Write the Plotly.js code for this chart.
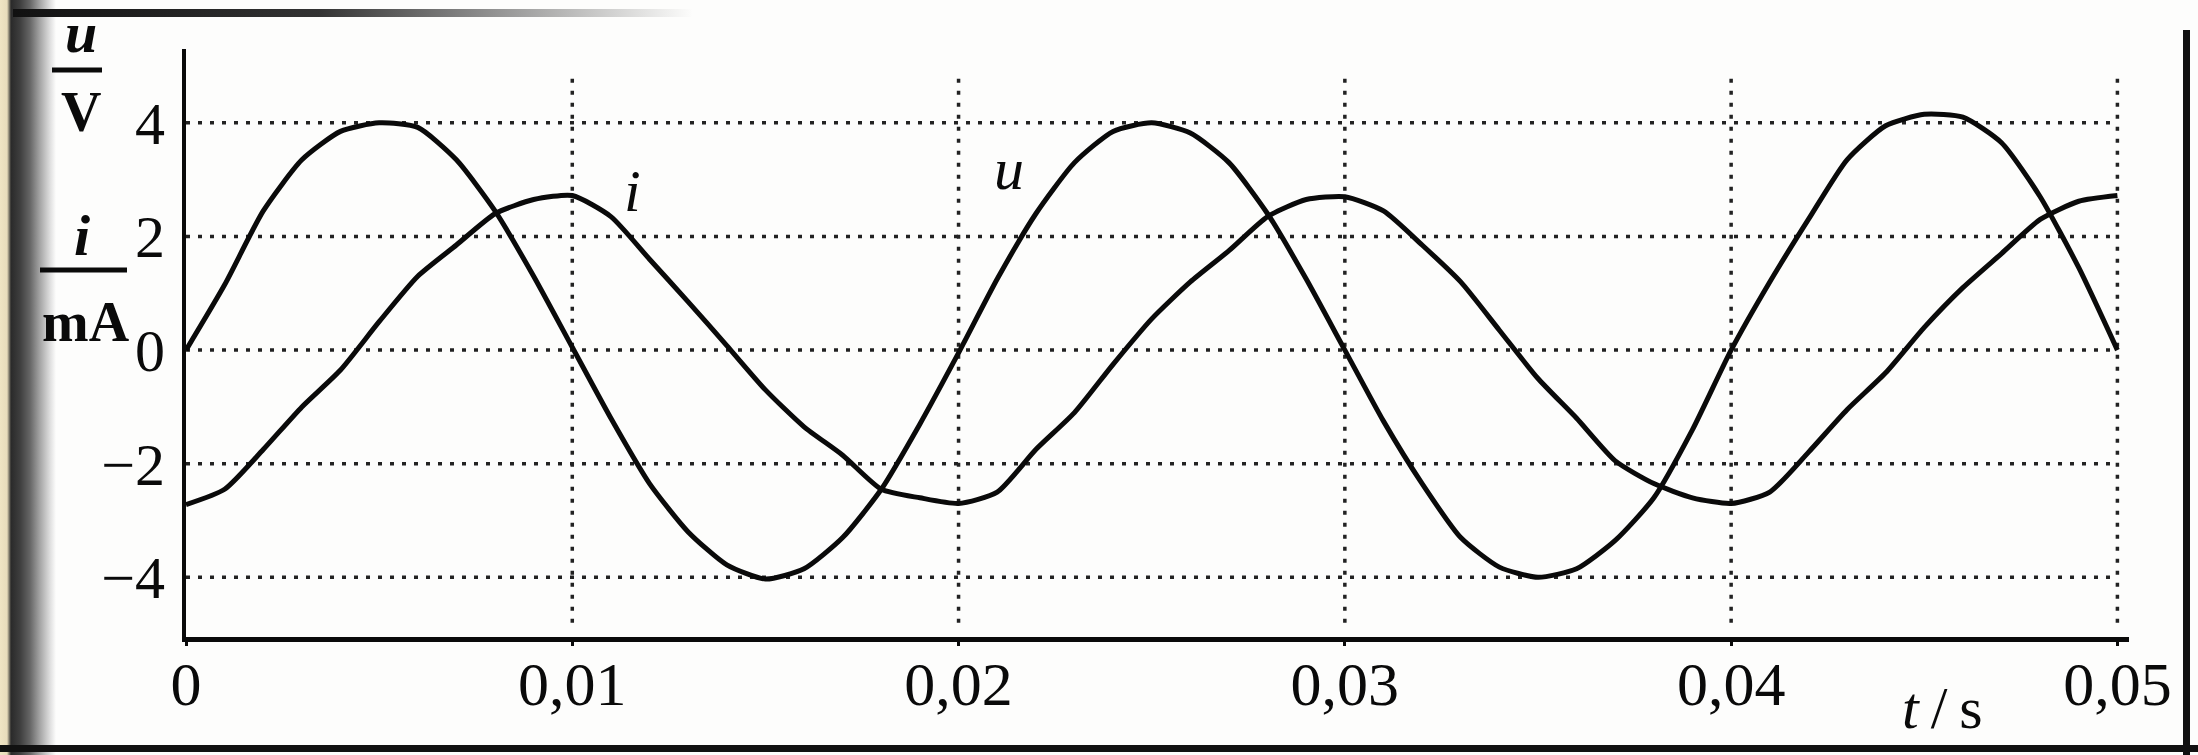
<!DOCTYPE html>
<html><head><meta charset="utf-8">
<script src="https://cdn.plot.ly/plotly-3.0.1.min.js"></script>
<style>
html,body{margin:0;padding:0;background:#fff;overflow:hidden}
#wrap{position:relative;width:2198px;height:755px;background:#fdfdfc}
#chart{position:absolute;left:0;top:0;width:2198px;height:755px;z-index:2}
.deco{position:absolute;z-index:1}
</style></head><body>
<div id="wrap">
<div class="deco" style="left:0;top:0;width:56px;height:755px;background:linear-gradient(to right,#efe4c4 0px,#e8dcbc 7px,#2a2a2a 11px,#3e3e3e 20px,#666 30px,#a5a5a5 40px,#dedede 50px,rgba(255,255,255,0) 56px)"></div>
<div class="deco" style="left:13px;top:9px;width:680px;height:8px;background:linear-gradient(to right,#111,#333 45%,rgba(120,120,120,0))"></div>
<div class="deco" style="left:0;top:745px;width:2198px;height:7px;background:#111"></div>
<div class="deco" style="left:2183px;top:30px;width:7px;height:725px;background:#111"></div>
<div id="chart"></div>
</div>
<script>
// ---- data ----
const timeS = [0,0.001,0.002,0.003,0.004,0.005,0.006,0.007,0.008,0.009,
  0.010,0.011,0.012,0.013,0.014,0.015,0.016,0.017,0.018,0.019,
  0.020,0.021,0.022,0.023,0.024,0.025,0.026,0.027,0.028,0.029,
  0.030,0.031,0.032,0.033,0.034,0.035,0.036,0.037,0.038,0.039,
  0.040,0.041,0.042,0.043,0.044,0.045,0.046,0.047,0.048,0.049,0.050];
const voltageU = [0,1.15,2.45,3.35,3.85,4.0,3.92,3.35,2.45,1.3,
  0.05,-1.2,-2.35,-3.2,-3.78,-4.03,-3.85,-3.3,-2.45,-1.3,
  -0.05,1.25,2.4,3.3,3.85,4.0,3.82,3.3,2.4,1.25,
  0.0,-1.25,-2.35,-3.3,-3.82,-4.0,-3.85,-3.35,-2.6,-1.4,
  0.0,1.2,2.3,3.35,3.95,4.15,4.1,3.65,2.7,1.45,0.0];
const currentI = [-2.72,-2.45,-1.75,-1.0,-0.35,0.5,1.3,1.85,2.4,2.65,
  2.72,2.35,1.6,0.85,0.08,-0.7,-1.35,-1.85,-2.45,-2.6,
  -2.7,-2.5,-1.75,-1.1,-0.25,0.55,1.2,1.75,2.35,2.65,
  2.7,2.45,1.85,1.2,0.35,-0.5,-1.2,-1.95,-2.35,-2.6,
  -2.7,-2.5,-1.8,-1.05,-0.4,0.4,1.1,1.7,2.3,2.62,2.72];
const xTickVals = [0,0.01,0.02,0.03,0.04,0.05];
const xTickText = ['0','0,01','0,02','0,03','0,04','0,05'];
const yTickVals = [-4,-2,0,2,4];
const yTickText = ['\u22124','\u22122','0','2','4'];

// ---- layout geometry ----
const W = 2198, H = 755, ML = 186, MR = 69, MT = 49, MB = 118;
const PW = W - ML - MR, PH = H - MT - MB;
const px = x => (x - ML) / PW;
const py = y => (H - MB - y) / PH;
const FONT = 'Liberation Serif, Times New Roman, serif';
const INK = '#0a0a0a';

const shapes = [];
const gridStyle = {color: '#222', width: 3.5, dash: '4px,8px'};
yTickVals.forEach(v => shapes.push({type: 'line', xref: 'x', yref: 'y', layer: 'below',
  x0: xTickVals[0], x1: xTickVals[xTickVals.length - 1], y0: v, y1: v, line: gridStyle}));
xTickVals.slice(1).forEach(v => shapes.push({type: 'line', xref: 'x', yref: 'y', layer: 'below',
  x0: v, x1: v, y0: -4.8, y1: 4.9, line: gridStyle}));
// fraction bars of the y-axis unit labels
shapes.push({type: 'line', xref: 'paper', yref: 'paper', x0: px(52), x1: px(102), y0: py(70), y1: py(70), line: {color: INK, width: 5}});
shapes.push({type: 'line', xref: 'paper', yref: 'paper', x0: px(40), x1: px(127), y0: py(270), y1: py(270), line: {color: INK, width: 5}});

const txt = (t, x, y, size, xref, yref, weight) => ({text: t, x: x, y: y, xref: xref || 'paper', yref: yref || 'paper',
  showarrow: false, xanchor: 'center', yanchor: 'middle',
  font: {family: FONT, size: size || 60, color: INK, weight: weight || 'normal'}});

const annotations = [
  txt('<i>u</i>', 0.0213, 3.18, 60, 'x', 'y'),
  txt('<i>i</i>', 0.01155, 2.8, 60, 'x', 'y'),
  txt('<i>t</i>\u2009/\u2009s', px(1942), py(708), 60),
  txt('<i>u</i>', px(81), py(33), 58, null, null, 'bold'),
  txt('V', px(81), py(112), 56, null, null, 'bold'),
  txt('<i>i</i>', px(82), py(235), 58, null, null, 'bold'),
  txt('mA', px(86), py(322), 56, null, null, 'bold')
];

const lineStyle = {color: INK, width: 5, shape: 'spline', smoothing: 0.6};
const traces = [
  {x: timeS, y: voltageU, type: 'scatter', mode: 'lines', name: 'u', line: lineStyle, hoverinfo: 'skip'},
  {x: timeS, y: currentI, type: 'scatter', mode: 'lines', name: 'i', line: lineStyle, hoverinfo: 'skip'}
];

const layout = {
  width: W, height: H, showlegend: false,
  margin: {l: ML, r: MR, t: MT, b: MB, pad: 0},
  paper_bgcolor: 'rgba(0,0,0,0)', plot_bgcolor: 'rgba(0,0,0,0)',
  font: {family: FONT, color: INK},
  xaxis: {range: [0, 0.0503], tickmode: 'array', tickvals: xTickVals, ticktext: xTickText,
    showgrid: false, zeroline: false, showline: true, linecolor: INK, linewidth: 5,
    ticks: 'outside', ticklen: 4, tickwidth: 3, tickcolor: INK, ticklabelstandoff: -15,
    tickfont: {family: FONT, size: 62, color: INK}, fixedrange: true},
  yaxis: {range: [-5.05, 5.3], tickmode: 'array', tickvals: yTickVals, ticktext: yTickText,
    showgrid: false, zeroline: false, showline: true, linecolor: INK, linewidth: 4,
    ticks: '', ticklabelstandoff: 5,
    tickfont: {family: FONT, size: 60, color: INK}, fixedrange: true},
  shapes: shapes,
  annotations: annotations
};

Plotly.newPlot('chart', traces, layout, {displayModeBar: false, staticPlot: true});
</script>
</body></html>
